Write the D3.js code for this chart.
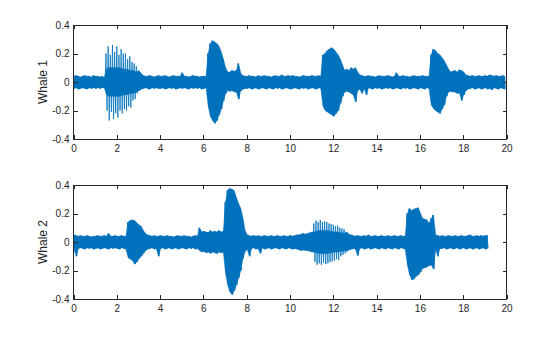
<!DOCTYPE html>
<html><head><meta charset="utf-8">
<script src="https://cdn.jsdelivr.net/npm/d3@7"></script>
<style>body{margin:0;background:#fff} svg{display:block}</style>
</head><body>
<svg id="chart" width="560" height="337"></svg>
<script>
// ---- data ----
const seriesNames = ["Whale 1", "Whale 2"];
const xTicks = [0, 2, 4, 6, 8, 10, 12, 14, 16, 18, 20];
const yTicks = [-0.4, -0.2, 0, 0.2, 0.4];
const yTickLabels = ["-0.4", "-0.2", "0", "0.2", "0.4"];
const binStep = 0.1; // seconds per envelope bin

// Whale 1: upper / lower envelope per 0.1 s bin
const whale1Upper = [
 .04,.045,.04,.035,.04,.045,.04,.04,.035,.045,
 .04,.04,.035,.04,.03,.20,.25,.19,.26,.21,
 .25,.19,.23,.20,.20,.16,.18,.14,.13,.11,
 .08,.06,.045,.04,.04,.045,.04,.035,.04,.045,
 .04,.04,.045,.04,.035,.04,.045,.04,.04,.04,
 .065,.04,.04,.035,.04,.045,.04,.04,.035,.04,
 .04,.04,.20,.27,.29,.28,.27,.25,.21,.16,
 .10,.07,.07,.08,.075,.08,.13,.06,.045,.04,
 .04,.045,.04,.04,.035,.045,.04,.04,.045,.04,
 .04,.035,.04,.045,.04,.04,.05,.04,.04,.045,
 .04,.045,.04,.04,.035,.04,.045,.04,.04,.04,
 .045,.04,.04,.045,.04,.19,.20,.22,.23,.24,
 .23,.21,.19,.16,.12,.08,.09,.08,.10,.09,
 .10,.07,.05,.045,.04,.04,.045,.04,.04,.035,
 .04,.045,.04,.04,.04,.045,.04,.035,.04,.065,
 .04,.04,.045,.04,.04,.035,.04,.045,.04,.04,
 .04,.045,.04,.04,.04,.19,.23,.22,.20,.19,
 .17,.15,.12,.09,.07,.075,.08,.07,.085,.08,
 .07,.05,.045,.04,.045,.04,.04,.045,.04,.04,
 .045,.04,.05,.045,.04,.045,.04,.04,.045,.04
];
const whale1Lower = [
 -.045,-.04,-.05,-.045,-.04,-.045,-.05,-.04,-.045,-.04,
 -.045,-.04,-.045,-.04,-.04,-.20,-.27,-.21,-.26,-.22,
 -.25,-.20,-.22,-.19,-.20,-.17,-.18,-.13,-.12,-.08,
 -.06,-.05,-.045,-.04,-.045,-.05,-.04,-.045,-.04,-.045,
 -.045,-.04,-.05,-.045,-.04,-.045,-.04,-.05,-.045,-.04,
 -.045,-.04,-.045,-.05,-.04,-.045,-.04,-.045,-.04,-.05,
 -.045,-.04,-.17,-.24,-.27,-.29,-.27,-.23,-.19,-.13,
 -.08,-.06,-.065,-.06,-.07,-.07,-.12,-.06,-.05,-.045,
 -.045,-.04,-.05,-.045,-.04,-.05,-.045,-.04,-.045,-.05,
 -.04,-.045,-.05,-.04,-.045,-.04,-.05,-.045,-.04,-.045,
 -.05,-.045,-.04,-.045,-.05,-.04,-.045,-.04,-.05,-.045,
 -.04,-.045,-.05,-.04,-.045,-.17,-.20,-.21,-.22,-.23,
 -.24,-.22,-.20,-.15,-.10,-.07,-.065,-.07,-.08,-.09,
 -.14,-.06,-.05,-.08,-.045,-.09,-.04,-.045,-.05,-.04,
 -.045,-.04,-.05,-.045,-.04,-.045,-.04,-.05,-.045,-.04,
 -.045,-.05,-.04,-.045,-.04,-.05,-.045,-.04,-.045,-.05,
 -.04,-.045,-.05,-.04,-.045,-.16,-.185,-.20,-.21,-.22,
 -.19,-.16,-.10,-.07,-.065,-.07,-.07,-.08,-.075,-.13,
 -.09,-.06,-.05,-.045,-.04,-.05,-.045,-.04,-.05,-.045,
 -.04,-.05,-.045,-.055,-.04,-.045,-.05,-.04,-.045,-.05
];
// click train: first bin (s) and dense-core amplitude per 0.1 s bin
const whale1ClickStart = 1.5;
const whale1ClickCore = [.09,.10,.10,.10,.10,.10,.10,.095,.09,.09,.085,.08,.08,.075,.07];

// Whale 2: upper / lower envelope per 0.1 s bin (recording ends ~19.2 s)
const whale2Upper = [
 .05,.045,.04,.045,.04,.04,.045,.04,.035,.04,
 .04,.045,.04,.04,.045,.04,.06,.04,.04,.045,
 .04,.04,.045,.04,.04,.14,.15,.155,.15,.135,
 .12,.11,.08,.06,.05,.045,.04,.045,.04,.04,
 .045,.04,.04,.045,.04,.04,.035,.04,.045,.04,
 .04,.045,.04,.04,.035,.04,.045,.04,.10,.07,
 .075,.07,.065,.08,.07,.075,.07,.08,.07,.075,
 .28,.365,.375,.37,.36,.31,.27,.235,.17,.08,
 .05,.045,.04,.045,.04,.045,.04,.04,.045,.04,
 .04,.045,.04,.04,.045,.04,.04,.045,.04,.04,
 .045,.04,.045,.05,.05,.055,.06,.055,.06,.065,
 .07,.13,.15,.14,.155,.14,.145,.14,.13,.125,
 .12,.11,.115,.10,.095,.09,.07,.055,.05,.045,
 .04,.045,.04,.04,.045,.04,.05,.04,.04,.045,
 .04,.04,.045,.04,.04,.045,.04,.04,.045,.04,
 .04,.045,.04,.04,.20,.235,.22,.23,.235,.24,
 .20,.165,.16,.155,.13,.165,.19,.05,.045,.04,
 .045,.04,.04,.045,.04,.04,.045,.04,.04,.045,
 .04,.04,.045,.05,.04,.04,.045,.04,.045,.04,
 .045,.045
];
const whale2Lower = [
 -.05,-.10,-.045,-.04,-.045,-.05,-.04,-.045,-.04,-.05,
 -.045,-.04,-.05,-.045,-.04,-.045,-.05,-.04,-.045,-.04,
 -.045,-.05,-.04,-.045,-.05,-.11,-.12,-.13,-.155,-.14,
 -.115,-.10,-.08,-.06,-.05,-.045,-.04,-.05,-.045,-.10,
 -.045,-.04,-.05,-.045,-.04,-.05,-.045,-.04,-.05,-.045,
 -.04,-.045,-.05,-.04,-.045,-.04,-.05,-.045,-.06,-.07,
 -.065,-.075,-.07,-.08,-.07,-.075,-.08,-.07,-.075,-.07,
 -.22,-.30,-.35,-.37,-.34,-.30,-.25,-.20,-.115,-.065,
 -.05,-.10,-.045,-.04,-.05,-.045,-.08,-.04,-.05,-.045,
 -.04,-.05,-.045,-.04,-.045,-.05,-.04,-.045,-.05,-.04,
 -.045,-.05,-.045,-.05,-.055,-.06,-.055,-.06,-.06,-.065,
 -.07,-.14,-.16,-.15,-.16,-.145,-.155,-.15,-.14,-.135,
 -.13,-.12,-.125,-.10,-.09,-.08,-.065,-.055,-.05,-.045,
 -.05,-.095,-.045,-.04,-.05,-.045,-.04,-.05,-.045,-.04,
 -.045,-.05,-.04,-.045,-.05,-.04,-.045,-.05,-.04,-.045,
 -.05,-.04,-.045,-.05,-.16,-.23,-.265,-.26,-.24,-.23,
 -.21,-.185,-.18,-.175,-.165,-.16,-.19,-.05,-.10,-.045,
 -.045,-.04,-.05,-.045,-.04,-.05,-.045,-.04,-.05,-.045,
 -.04,-.05,-.045,-.04,-.05,-.045,-.04,-.05,-.045,-.04,
 -.05,-.045
];
const whale2ClickStart = 11.1;
const whale2ClickCore = [.07,.075,.08,.08,.08,.08,.08,.075,.075,.07,.07,.07,.065,.065,.06];

// ---- drawing ----
const svg = d3.select("#chart");
const axisColor = "#262626";
const lineColor = "#0072BD";
const fontFamily = "'Liberation Sans', Arial, Helvetica, sans-serif";

const panels = [
  {name: seriesNames[0], upper: whale1Upper, lower: whale1Lower, cStart: whale1ClickStart, cCore: whale1ClickCore, top: 25, bottom: 139},
  {name: seriesNames[1], upper: whale2Upper, lower: whale2Lower, cStart: whale2ClickStart, cCore: whale2ClickCore, top: 185, bottom: 299}
];
const left = 73.5, right = 506.5;

panels.forEach((p, k) => {
  const x = d3.scaleLinear().domain([0, 20]).range([left, right]);
  const y = d3.scaleLinear().domain([-0.4, 0.4]).range([p.bottom, p.top]);
  const g = svg.append("g");

  const clipId = "clip" + k;
  svg.append("clipPath").attr("id", clipId).append("rect")
    .attr("x", left).attr("y", p.top).attr("width", right - left).attr("height", p.bottom - p.top);

  // dense core of the waveform
  const startBin = Math.round(p.cStart / binStep);
  const coreOf = (i) => {
    const j = i - startBin;
    if (j >= 0 && j < p.cCore.length) {
      return [Math.max(p.lower[i], -p.cCore[j]), Math.min(p.upper[i], p.cCore[j])];
    }
    return [p.lower[i], p.upper[i]];
  };
  const area = d3.area()
    .x((d, i) => x(i * binStep + binStep / 4))
    .y0((d, i) => y(coreOf(i)[0]))
    .y1((d, i) => y(coreOf(i)[1]));
  g.append("path").datum(p.upper)
    .attr("clip-path", `url(#${clipId})`)
    .attr("fill", lineColor).attr("stroke", lineColor).attr("stroke-width", 0.6)
    .attr("d", area);

  // oscillation drawn between the envelopes
  const pts = [];
  p.upper.forEach((u, i) => {
    pts.push([i * binStep, u]);
    pts.push([i * binStep + binStep / 2, p.lower[i]]);
  });
  const line = d3.line().x(d => x(d[0])).y(d => y(d[1]));
  g.append("path").datum(pts)
    .attr("clip-path", `url(#${clipId})`)
    .attr("fill", "none").attr("stroke", lineColor)
    .attr("stroke-width", 0.8)
    .attr("d", line);

  // axes
  const fmtY = d => yTickLabels[yTicks.indexOf(d)];
  const ax = [
    d3.axisBottom(x).tickValues(xTicks).tickSizeInner(-4).tickSizeOuter(0).tickPadding(6).tickFormat(d3.format("d")),
    d3.axisLeft(y).tickValues(yTicks).tickSizeInner(-4).tickSizeOuter(0).tickPadding(4).tickFormat(fmtY),
    d3.axisTop(x).tickValues(xTicks).tickSizeInner(-4).tickSizeOuter(0).tickFormat(""),
    d3.axisRight(y).tickValues(yTicks).tickSizeInner(-4).tickSizeOuter(0).tickFormat("")
  ];
  const trans = [`translate(0,${p.bottom})`, `translate(${left},0)`, `translate(0,${p.top})`, `translate(${right},0)`];
  ax.forEach((a, j) => {
    const ag = svg.append("g").attr("transform", trans[j]).call(a);
    ag.select(".domain").remove();
    ag.selectAll("line").attr("stroke", axisColor).attr("shape-rendering", "crispEdges");
    ag.selectAll("text").attr("fill", axisColor).style("font-family", fontFamily).style("font-size", "10px");
  });
  svg.append("rect").attr("x", left).attr("y", p.top)
    .attr("width", right - left).attr("height", p.bottom - p.top)
    .attr("fill", "none").attr("stroke", axisColor).attr("stroke-width", 1)
    .attr("shape-rendering", "crispEdges");

  svg.append("text")
    .attr("transform", `translate(46.5,${(p.top + p.bottom) / 2}) rotate(-90)`)
    .attr("text-anchor", "middle")
    .attr("fill", axisColor)
    .style("font-family", fontFamily).style("font-size", "12px")
    .text(p.name);
});
</script>
</body></html>
